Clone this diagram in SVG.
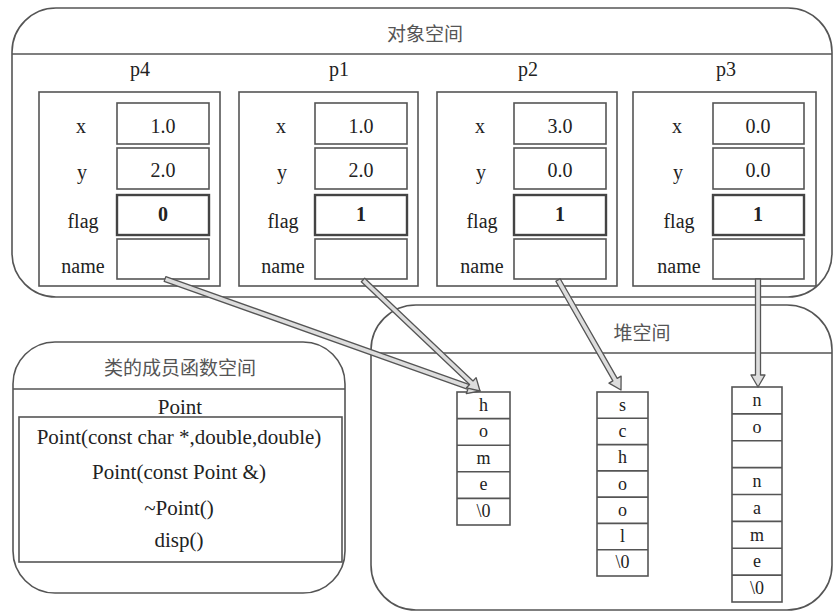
<svg xmlns="http://www.w3.org/2000/svg" width="834" height="613" viewBox="0 0 834 613">
<style>
.frame{fill:none;stroke:#555;stroke-width:1.6}
.box{fill:#fff;stroke:#555;stroke-width:1.6}
.vbox{fill:#fff;stroke:#555;stroke-width:1.6}
.fbox{fill:#fff;stroke:#444;stroke-width:2.4}
.t{font-family:"Liberation Serif","Times New Roman",serif;font-size:20px;fill:#222;text-anchor:middle}
.m{font-size:21px}
.b{font-weight:bold}
.c{font-family:"Noto Sans CJK SC","Noto Sans CJK TC",sans-serif;font-size:19px;fill:#555;text-anchor:middle}
.h{font-family:"Liberation Serif","Times New Roman",serif;font-size:18px;fill:#222;text-anchor:middle}
.arr{fill:#ddd;stroke:#555;stroke-width:1.3;stroke-linejoin:round}
</style>
<rect width="834" height="613" fill="#fff"/>

<g id="object-space">
<rect class="frame" x="12" y="8" width="820" height="289" rx="44" ry="44"/>
<line class="frame" x1="12" y1="54" x2="832" y2="54"/>
<text class="c" x="425" y="41">对象空间</text>
</g>

<g id="p4">
<text class="t" x="140" y="76">p4</text>
<rect class="box" x="39" y="92" width="181" height="194"/>
<rect class="vbox" x="117" y="103" width="92" height="41"/>
<rect class="vbox" x="117" y="148" width="92" height="41"/>
<rect class="fbox" x="117" y="195" width="92" height="40"/>
<rect class="vbox" x="117" y="239" width="92" height="40"/>
<text class="t" x="81" y="133">x</text>
<text class="t" x="82" y="179">y</text>
<text class="t" x="83" y="228">flag</text>
<text class="t" x="83" y="273">name</text>
<text class="t" x="163" y="133">1.0</text>
<text class="t" x="163" y="177">2.0</text>
<text class="t b" x="163" y="221">0</text>
</g>

<g id="p1">
<text class="t" x="339" y="76">p1</text>
<rect class="box" x="239" y="92" width="179" height="194"/>
<rect class="vbox" x="315" y="103" width="92" height="41"/>
<rect class="vbox" x="315" y="148" width="92" height="41"/>
<rect class="fbox" x="315" y="195" width="92" height="40"/>
<rect class="vbox" x="315" y="239" width="92" height="40"/>
<text class="t" x="281" y="133">x</text>
<text class="t" x="282" y="179">y</text>
<text class="t" x="283" y="228">flag</text>
<text class="t" x="283" y="273">name</text>
<text class="t" x="361" y="133">1.0</text>
<text class="t" x="361" y="177">2.0</text>
<text class="t b" x="361" y="221">1</text>
</g>

<g id="p2">
<text class="t" x="528" y="76">p2</text>
<rect class="box" x="437" y="92" width="180" height="194"/>
<rect class="vbox" x="514" y="103" width="92" height="41"/>
<rect class="vbox" x="514" y="148" width="92" height="41"/>
<rect class="fbox" x="514" y="195" width="92" height="40"/>
<rect class="vbox" x="514" y="239" width="92" height="40"/>
<text class="t" x="480" y="133">x</text>
<text class="t" x="481" y="179">y</text>
<text class="t" x="482" y="228">flag</text>
<text class="t" x="482" y="273">name</text>
<text class="t" x="560" y="133">3.0</text>
<text class="t" x="560" y="177">0.0</text>
<text class="t b" x="560" y="221">1</text>
</g>

<g id="p3">
<text class="t" x="726" y="76">p3</text>
<rect class="box" x="633" y="92" width="183" height="194"/>
<rect class="vbox" x="713" y="103" width="91" height="41"/>
<rect class="vbox" x="713" y="148" width="91" height="41"/>
<rect class="fbox" x="713" y="195" width="91" height="40"/>
<rect class="vbox" x="713" y="239" width="91" height="40"/>
<text class="t" x="677" y="133">x</text>
<text class="t" x="678" y="179">y</text>
<text class="t" x="679" y="228">flag</text>
<text class="t" x="679" y="273">name</text>
<text class="t" x="758" y="133">0.0</text>
<text class="t" x="758" y="177">0.0</text>
<text class="t b" x="758" y="221">1</text>
</g>

<g id="function-space">
<rect class="frame" x="13" y="342" width="332" height="251" rx="42" ry="42"/>
<line class="frame" x1="13" y1="389" x2="345" y2="389"/>
<text class="c" x="180" y="375">类的成员函数空间</text>
<text class="t m" x="180" y="414">Point</text>
<rect class="frame" x="19" y="417" width="323" height="145"/>
<text class="t m" x="179" y="444">Point(const char *,double,double)</text>
<text class="t m" x="179" y="479">Point(const Point &amp;)</text>
<text class="t m" x="179" y="515">~Point()</text>
<text class="t m" x="179" y="547">disp()</text>
</g>

<g id="heap-space">
<rect class="frame" x="371" y="305" width="461" height="305" rx="45" ry="45"/>
<line class="frame" x1="371" y1="353" x2="832" y2="353"/>
<text class="c" x="642" y="340">堆空间</text>
</g>

<g id="str-home">
<rect class="box" x="457" y="392" width="53" height="133"/>
<path class="frame" d="M457 418.6H510M457 445.2H510M457 471.8H510M457 498.4H510"/>
<text class="h" x="483.5" y="411">h</text>
<text class="h" x="483.5" y="437">o</text>
<text class="h" x="483.5" y="464">m</text>
<text class="h" x="483.5" y="490">e</text>
<text class="h" x="483.5" y="517">\0</text>
</g>

<g id="str-school">
<rect class="box" x="597" y="392" width="51" height="184"/>
<path class="frame" d="M597 418.3H648M597 444.6H648M597 470.9H648M597 497.1H648M597 523.4H648M597 549.7H648"/>
<text class="h" x="622.5" y="411">s</text>
<text class="h" x="622.5" y="437">c</text>
<text class="h" x="622.5" y="463">h</text>
<text class="h" x="622.5" y="490">o</text>
<text class="h" x="622.5" y="516">o</text>
<text class="h" x="622.5" y="542">l</text>
<text class="h" x="622.5" y="568">\0</text>
</g>

<g id="str-noname">
<rect class="box" x="732" y="387" width="50" height="215"/>
<path class="frame" d="M732 413.9H782M732 440.8H782M732 467.6H782M732 494.5H782M732 521.4H782M732 548.2H782M732 575.1H782"/>
<text class="h" x="757" y="406">n</text>
<text class="h" x="757" y="433">o</text>
<text class="h" x="757" y="487">n</text>
<text class="h" x="757" y="514">a</text>
<text class="h" x="757" y="541">m</text>
<text class="h" x="757" y="567">e</text>
<text class="h" x="757" y="594">\0</text>
</g>

<g id="connectors">
<polygon class="arr" points="164.16,281.36 467.85,389.34 466.34,393.58 480,391 471.04,380.38 469.53,384.62 165.84,276.64"/>
<polygon class="arr" points="361.28,281.81 469.58,384.55 466.48,387.82 480,391 476.12,377.66 473.02,380.93 364.72,278.19"/>
<polygon class="arr" points="555.83,281.24 612.87,380.83 608.97,383.07 621,390 621.11,376.11 617.21,378.35 560.17,278.76"/>
<polygon class="arr" points="755.5,279 755.5,375 751,375 758,387 765,375 760.5,375 760.5,279"/>
</g>
</svg>
